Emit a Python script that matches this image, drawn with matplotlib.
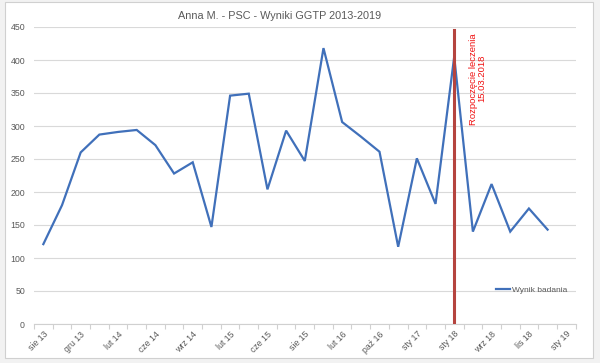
import matplotlib
matplotlib.use("Agg")
import matplotlib.pyplot as plt
from matplotlib.patches import Rectangle

plt.rcParams['font.family'] = ['Liberation Sans', 'DejaVu Sans']

categories = ["sie 13", "paź 13", "gru 13", "sty 14", "lut 14", "kwi 14", "cze 14",
              "lip 14", "wrz 14", "lis 14", "lut 15", "kwi 15", "cze 15", "lip 15",
              "sie 15", "lis 15", "lut 16", "kwi 16", "paź 16", "gru 16", "sty 17",
              "lip 17", "sty 18", "maj 18", "wrz 18", "paź 18", "lis 18", "gru 18",
              "sty 19"]
values = [121, 180, 260, 287, 291, 294, 271, 228, 245, 147, 346, 349, 204, 293,
          247, 418, 306, 284, 261, 117, 251, 182, 405, 140, 212, 140, 175, 143]
series_name = "Wynik badania"
title = "Anna M. - PSC - Wyniki GGTP 2013-2019"
marker_index = 22
marker_top = 445
marker_text = "Rozpoczęcie leczenia\n15.03.2018"
y_ticks = [0, 50, 100, 150, 200, 250, 300, 350, 400, 450]

grey = '#595959'
fig = plt.figure(figsize=(6.0, 3.63), dpi=100)
fig.patch.set_facecolor('#f2f2f2')
fig.patches.append(Rectangle((5/600, 5/363), 588/600, 356/363, transform=fig.transFigure,
                             facecolor='white', edgecolor='#d0d0d0', lw=0.8, zorder=-10))

ax = fig.add_axes([34/600, 1-324/363, (575.6-34)/600, (324-27)/363])
ax.set_zorder(1)
ax.set_facecolor('none')
xs = list(range(len(values)))
ax.plot(xs, values, color='#4070BA', lw=1.6, label=series_name, zorder=3, solid_joinstyle='miter')
ax.plot([marker_index, marker_index], [0, marker_top], color='#B5443F', lw=2.2, zorder=4)
ax.text(marker_index + 1.25, 441, marker_text, rotation=90, ha='center', va='top',
        color='#F01010', fontsize=6.8, multialignment='center', linespacing=1.0)

ax.set_xlim(-0.5, len(categories) - 0.5)
ax.set_ylim(0, 450)
ax.set_yticks(y_ticks)
ax.tick_params(axis='y', length=0, labelsize=6.3, labelcolor=grey, pad=6.5)
ax.grid(axis='y', color='#d9d9d9', lw=0.8, zorder=0)
ax.set_axisbelow(True)
for s in ['top', 'right', 'left']:
    ax.spines[s].set_visible(False)
ax.spines['bottom'].set_color('#d0d0d0')
ax.spines['bottom'].set_linewidth(0.8)

ax.set_xticks([i - 0.5 for i in range(len(categories) + 1)], minor=True)
ax.tick_params(axis='x', which='minor', length=3.5, color='#d0d0d0', width=0.8)
major = list(range(0, len(categories), 2))
ax.set_xticks(major)
ax.set_xticklabels([categories[i] for i in major], rotation=45, ha='right',
                   rotation_mode='anchor', fontsize=6.3, color=grey)
ax.tick_params(axis='x', which='major', length=0, pad=4)

fig.text(280/600, 1-16/363, title, ha='center', va='center', fontsize=7.8, color=grey)

leg = ax.legend(loc='center left', bbox_to_anchor=(496/600, 1-290/363),
                bbox_transform=fig.transFigure, frameon=False, fontsize=6,
                handlelength=1.7, handletextpad=0.2, borderpad=0, borderaxespad=0)
for t in leg.get_texts():
    t.set_color(grey)

fig.savefig('out.png', dpi=100, facecolor=fig.get_facecolor())
